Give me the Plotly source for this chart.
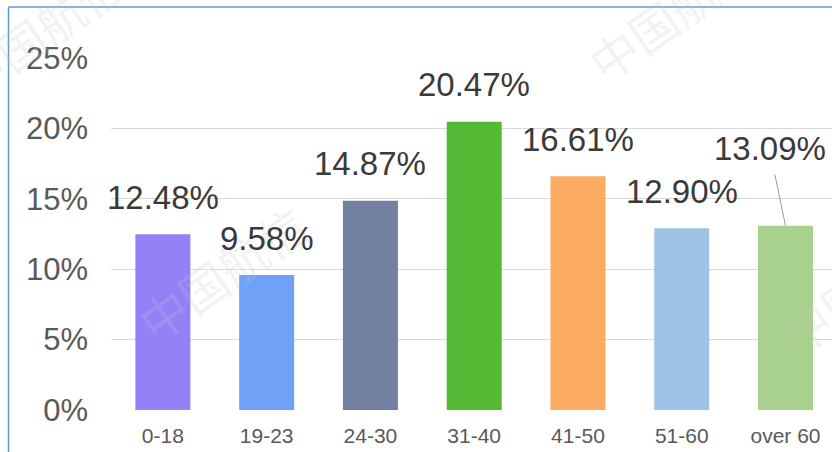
import plotly.graph_objects as go

categories = ["0-18", "19-23", "24-30", "31-40", "41-50", "51-60", "over 60"]
values = [12.48, 9.58, 14.87, 20.47, 16.61, 12.90, 13.09]
labels = ["12.48%", "9.58%", "14.87%", "20.47%", "16.61%", "12.90%", "13.09%"]
colors = ["#9580f7", "#6fa1f7", "#72819f", "#55b935", "#fcab63", "#9ec3e6", "#a9d18e"]
y_ticks = [0, 5, 10, 15, 20, 25]
y_tick_text = ["0%", "5%", "10%", "15%", "20%", "25%"]
watermark = "中国航信"

fig = go.Figure(go.Bar(
    x=list(range(len(categories))), y=values,
    marker=dict(color=colors, line=dict(width=0)),
    width=0.53, hoverinfo="skip",
))

font = "Liberation Sans, Arial, sans-serif"
annotations = []
# watermarks (drawn first, underneath)
for (wx, wy) in [(40, 30), (672, 12), (222, 272), (865, 285)]:
    annotations.append(dict(
        xref="paper", yref="paper",
        x=(wx - 111) / 721, y=(452 - 42 - wy) / 352,
        xanchor="center", yanchor="middle",
        text=watermark, showarrow=False, textangle=-35,
        font=dict(family="Noto Sans CJK SC", size=48, color="rgba(200,200,200,0.22)"),
    ))

for i, (v, t) in enumerate(zip(values, labels)):
    if i == len(values) - 1:
        annotations.append(dict(
            x=i, y=v, xref="x", yref="y", text=t, showarrow=True,
            ax=-16, ay=-77, arrowhead=0, arrowwidth=1, arrowcolor="#9a9a9a",
            startstandoff=6,
            font=dict(family=font, size=33, color="#3a3a3a"),
        ))
    else:
        annotations.append(dict(
            x=i, y=v, xref="x", yref="y", text=t, showarrow=False,
            yanchor="middle", yshift=37,
            font=dict(family=font, size=33, color="#3a3a3a"),
        ))

fig.update_layout(
    width=832, height=452,
    margin=dict(l=111, r=0, t=58, b=42),
    paper_bgcolor="white", plot_bgcolor="white",
    showlegend=False,
    bargap=0.47,
    annotations=annotations,
    shapes=[
        dict(type="line", xref="paper", yref="paper",
             x0=(8.5 - 111) / 721, x1=1.05, y0=(452 - 42 - 7) / 352, y1=(452 - 42 - 7) / 352,
             line=dict(color="#5b9bd5", width=1.5)),
        dict(type="line", xref="paper", yref="paper",
             x0=(8.5 - 111) / 721, x1=(8.5 - 111) / 721, y0=(452 - 42 - 7) / 352, y1=-0.2,
             line=dict(color="#5b9bd5", width=1.5)),
    ],
    xaxis=dict(
        range=[-0.5, 6.448], tickmode="array",
        tickvals=list(range(len(categories))), ticktext=categories,
        showgrid=False, zeroline=False, showline=False, ticks="",
        tickfont=dict(family=font, size=21, color="#595959"),
        ticklabelstandoff=11,
    ),
    yaxis=dict(
        range=[0, 25], tickmode="array", tickvals=y_ticks, ticktext=y_tick_text,
        showgrid=True, gridcolor="#d9d9d9", gridwidth=1.2,
        zeroline=False, showline=False, ticks="",
        tickfont=dict(family=font, size=31, color="#595959"),
        ticklabelstandoff=22,
    ),
)

fig.write_html(
    "out.html",
    config={"displayModeBar": False, "staticPlot": True},
    post_script="document.body.style.margin='0';document.body.style.overflow='hidden';",
)
